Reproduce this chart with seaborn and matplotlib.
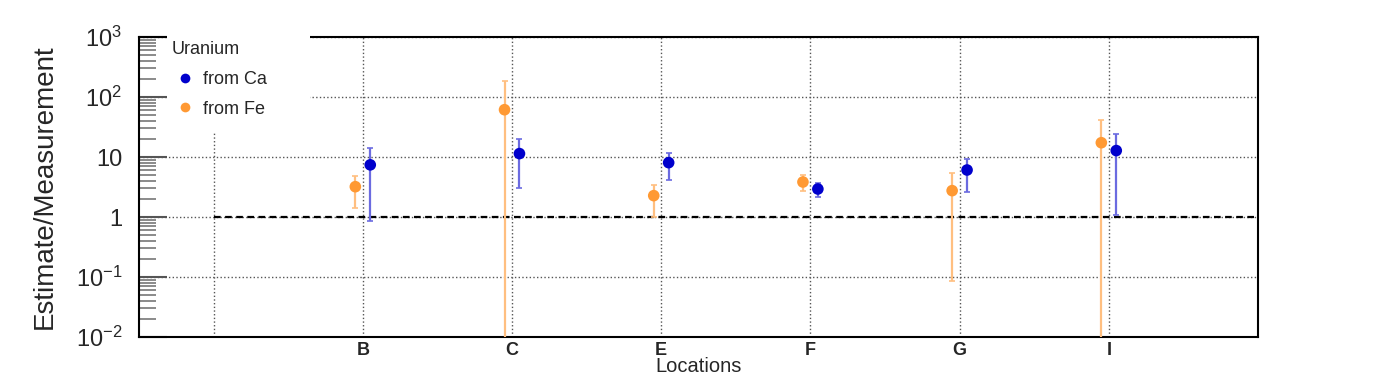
import numpy as np
import pandas as pd
import matplotlib
matplotlib.use("Agg")
import matplotlib.pyplot as plt
import seaborn as sns
from matplotlib.patches import Rectangle
from matplotlib.ticker import LogLocator, FixedLocator, FixedFormatter, NullFormatter
from matplotlib.lines import Line2D

# ---------------- data ----------------
tick_locations = ["", "B", "C", "E", "F", "G", "I"]
point_locations = ["B", "C", "E", "F", "G", "I"]

ca_values = [7.4, 11.4, 8.05, 2.93, 6.07, 12.8]
ca_low = [0.87, 3.08, 4.08, 2.15, 2.61, 1.09]
ca_high = [14.3, 19.7, 11.8, 3.69, 9.38, 24.2]

fe_values = [3.2, 61.4, 2.27, 3.83, 2.75, 17.3]
fe_low = [1.43, 0.005, 1.0, 2.71, 0.087, 0.005]
fe_high = [4.9, 185.0, 3.46, 5.08, 5.48, 41.8]

y_tick_values = [1e-2, 1e-1, 1, 10, 100, 1000]
y_tick_labels = [r"$10^{-2}$", r"$10^{-1}$", "1", "10", r"$10^{2}$", r"$10^{3}$"]
reference_value = 1.0

series_names = ["from Ca", "from Fe"]
marker_colors = {"from Ca": "#0000cc", "from Fe": "#ff9933"}
bar_colors = {"from Ca": "#6b6be0", "from Fe": "#ffbf80"}
offsets = {"from Ca": 0.05, "from Fe": -0.05}

# ---------------- style ----------------
sns.set_style("white")
plt.rcParams["font.family"] = ["Liberation Sans", "DejaVu Sans"]
plt.rcParams["mathtext.fontset"] = "custom"
plt.rcParams["mathtext.rm"] = "Liberation Sans"
plt.rcParams["mathtext.it"] = "Liberation Sans:italic"
plt.rcParams["mathtext.bf"] = "Liberation Sans:bold"

rows = []
for name, vals, lo, hi in [("from Ca", ca_values, ca_low, ca_high),
                           ("from Fe", fe_values, fe_low, fe_high)]:
    for loc, v, l, h in zip(point_locations, vals, lo, hi):
        rows.append({"location": loc, "series": name, "value": v, "low": l, "high": h,
                     "xpos": tick_locations.index(loc) + offsets[name]})
df = pd.DataFrame(rows)

fig = plt.figure(figsize=(13.98, 3.75), dpi=100)
ax = fig.add_axes([139 / 1398, 38 / 375, 1119 / 1398, 300 / 375])

# error bars
for name in ["from Fe", "from Ca"]:
    d = df[df.series == name]
    yerr = np.vstack([d.value - d.low, d.high - d.value])
    ax.errorbar(d.xpos, d.value, yerr=yerr, fmt="none", ecolor=bar_colors[name],
                elinewidth=1.6, capsize=2, capthick=1.2, zorder=3)

sns.scatterplot(data=df, x="xpos", y="value", hue="series", hue_order=series_names,
                palette=marker_colors, s=70, linewidth=0, ax=ax, zorder=4, legend=False)

ax.set_yscale("log")
ax.set_ylim(1e-2, 1e3)
ax.set_xlim(-0.5, 7.0)

ax.hlines(reference_value, 0, 7.0, colors="black", linestyles=(0, (3, 2)),
          linewidth=1.6, zorder=2)

# axes ticks
ax.xaxis.set_major_locator(FixedLocator(range(len(tick_locations))))
ax.xaxis.set_major_formatter(FixedFormatter(tick_locations))
ax.tick_params(axis="x", which="both", length=0, pad=3.5, labelsize=13)
for lab in ax.get_xticklabels():
    lab.set_fontweight("bold")

ax.yaxis.set_major_locator(FixedLocator(y_tick_values))
ax.yaxis.set_major_formatter(FixedFormatter(y_tick_labels))
ax.yaxis.set_minor_locator(LogLocator(base=10, subs=np.arange(2, 10)))
ax.yaxis.set_minor_formatter(NullFormatter())
ax.tick_params(axis="y", which="major", direction="in", length=20, width=1.5,
               color="#555555", labelsize=17, pad=12, left=True)
ax.tick_params(axis="y", which="minor", direction="in", length=12, width=1.2,
               color="#777777", left=True)

ax.grid(True, which="major", linestyle=":", color="#555555", linewidth=1.0)
ax.set_axisbelow(True)

for side, sp in ax.spines.items():
    sp.set_visible(True)
    sp.set_color("black")
    sp.set_linewidth(1.5)

ax.set_ylabel("Estimate/Measurement", fontsize=20, labelpad=13)
ax.set_xlabel("Locations", fontsize=14.5, labelpad=-1)

# legend area
ax.add_patch(Rectangle((0.025, 0.68), 0.128, 0.335, transform=ax.transAxes,
                       facecolor="white", edgecolor="none", zorder=3, clip_on=False))
handles = [Line2D([], [], marker="o", linestyle="none", markersize=7,
                  markerfacecolor=marker_colors[n], markeredgewidth=0) for n in series_names]
leg = ax.legend(handles, series_names, title="Uranium", loc="upper left",
                bbox_to_anchor=(0.0295, 0.985), frameon=False, fontsize=13,
                title_fontsize=13, alignment="left", borderpad=0, handlelength=1.4,
                handletextpad=0.3, labelspacing=0.7, borderaxespad=0)
leg.set_zorder(5)

fig.savefig("out.png", dpi=100)
